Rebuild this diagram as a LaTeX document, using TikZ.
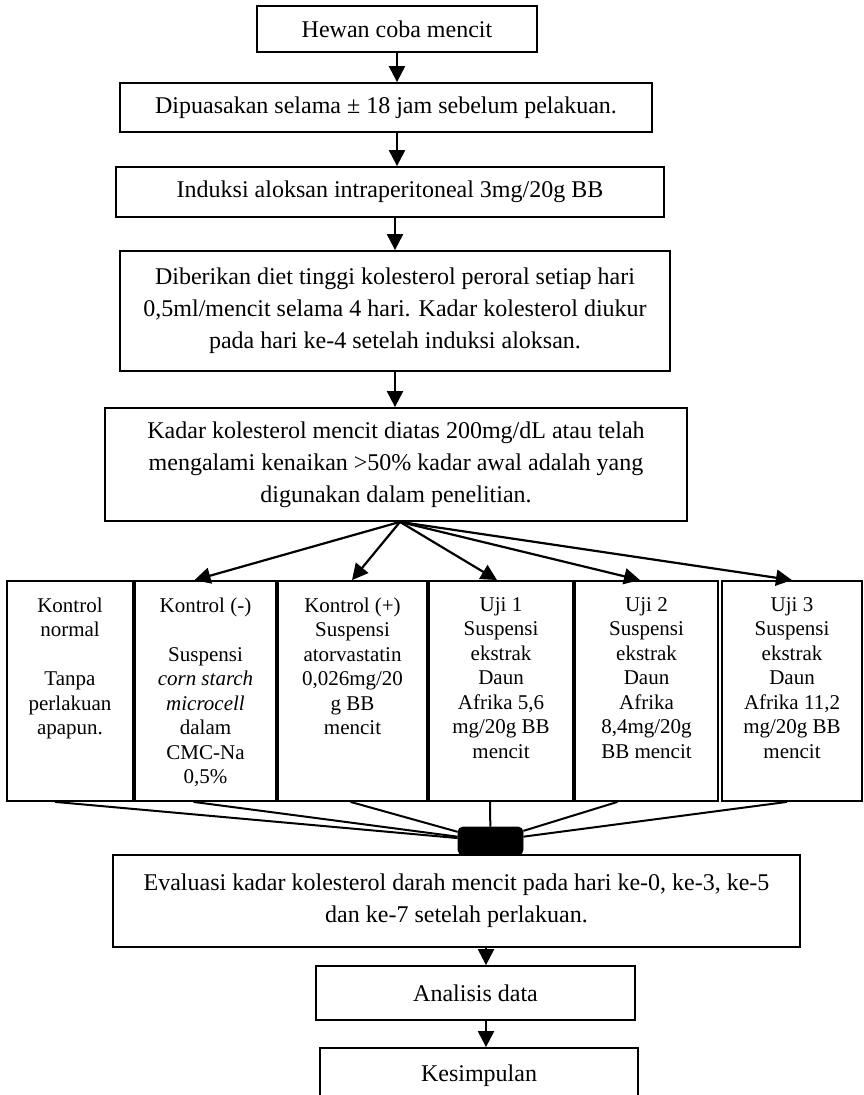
\documentclass[tikz,border=0pt]{standalone}
\usepackage{fontspec}
\setmainfont{Liberation Serif}
\usetikzlibrary{arrows.meta,calc}
\newcommand\bigfnt{\fontsize{12}{16}\selectfont}
\newcommand\smallfnt{\fontsize{10.5}{12.25}\selectfont}
\begin{document}
\begin{tikzpicture}[x=0.5pt,y=-0.5pt,
  box/.style={draw, line width=0.9pt, inner sep=0pt, align=center, font=\bigfnt},
  colbox/.style={draw, line width=0.9pt, inner sep=0pt, minimum height=110pt},
  coltxt/.style={inner sep=0pt, align=center, font=\smallfnt, anchor=north},
  arr/.style={line width=1.1pt, -{Triangle[length=8pt,width=8pt]}},
  lnk/.style={line width=1pt}]
\useasboundingbox (0,0) rectangle (863,1095);

% main chain
\node[box, minimum width=140pt, minimum height=23pt] (h1) at (397,29) {Hewan coba mencit};
\node[box, minimum width=266pt, minimum height=24.5pt] (h2) at (386,107.5) {Dipuasakan selama ± 18 jam sebelum pelakuan.};
\node[box, minimum width=274pt, minimum height=25pt] (h3) at (390,192) {Induksi aloksan intraperitoneal 3mg/20g BB};
\node[box, minimum width=275pt, minimum height=60pt] (h4) at (395,311) {Diberikan diet tinggi kolesterol peroral setiap hari\\0,5ml/mencit selama 4 hari. Kadar kolesterol diukur\\pada hari ke-4 setelah induksi aloksan.};
\node[box, minimum width=291pt, minimum height=56.5pt] (h5) at (396,464.5) {Kadar kolesterol mencit diatas 200mg/dL atau telah\\mengalami kenaikan >50\% kadar awal adalah yang\\digunakan dalam penelitian.};

\draw[arr] (h1.south) -- (h1.south |- h2.north);
\draw[arr] (h2.south -| h1.south) -- (h3.north -| h1.south);
\draw[arr] (h3.south -| h4.south) -- (h4.north);
\draw[arr] (h4.south) -- (h4.south |- h5.north);

% six groups
\node[colbox, minimum width=63pt]   (ga) at (70,691) {};
\node[colbox, minimum width=70.5pt] (gb) at (205.5,691) {};
\node[colbox, minimum width=74.5pt] (gc) at (352.5,691) {};
\node[colbox, minimum width=72pt]   (gd) at (501,691) {};
\node[colbox, minimum width=71.5pt] (ge) at (646.5,691) {};
\node[colbox, minimum width=70pt]   (gf) at (792,691) {};

\node[coltxt] (ta) at ($(ga.north)+(0,17)$) {Kontrol\\normal\\[12.25pt]Tanpa\\perlakuan\\apapun.};
\node[coltxt] (tb) at ($(gb.north)+(0,17)$) {Kontrol (-)\\[12.25pt]Suspensi\\\textit{corn starch}\\\textit{microcell}\\dalam\\CMC-Na\\0,5\%};
\node[coltxt] (tc) at ($(gc.north)+(0,17)$) {Kontrol (+)\\Suspensi\\atorvastatin\\0,026mg/20\\g BB\\mencit};
\node[coltxt] (td) at ($(gd.north)+(0,17)$) {Uji 1\\Suspensi\\ekstrak\\Daun\\Afrika 5,6\\mg/20g BB\\mencit};
\node[coltxt] (te) at ($(ge.north)+(0,17)$) {Uji 2\\Suspensi\\ekstrak\\Daun\\Afrika\\8,4mg/20g\\BB mencit};
\node[coltxt] (tf) at ($(gf.north)+(0,17)$) {Uji 3\\Suspensi\\ekstrak\\Daun\\Afrika 11,2\\mg/20g BB\\mencit};

\coordinate (src) at ($(h5.south)+(4,0)$);
\draw[arr] (src) -- ($(gb.north)+(-11,0)$);
\draw[arr] (src) -- ($(gc.north)+(-0.5,0)$);
\draw[arr] (src) -- ($(gd.north)+(-4,0)$);
\draw[arr] (src) -- ($(ge.north)+(-6.5,0)$);
\draw[arr] (src) -- (gf.north);

% junction
\node[draw, fill=black, rounded corners=2.5pt, minimum width=32.5pt, minimum height=14pt, inner sep=0pt] (J) at (490.5,841) {};
\draw[lnk] ($(ga.south)+(-15,0)$) -- (J);
\draw[lnk] ($(gb.south)+(-12,0)$) -- (J);
\draw[lnk] ($(gc.south)+(-2,0)$) -- (J);
\draw[lnk] ($(gd.south)+(-11,0)$) -- (J);
\draw[lnk] ($(ge.south)+(-29,0)$) -- (J);
\draw[lnk] ($(gf.south)+(-5,0)$) -- (J);

% bottom chain
\node[box, minimum width=343.5pt, minimum height=46pt] (ev) at (456.5,901) {Evaluasi kadar kolesterol darah mencit pada hari ke-0, ke-3, ke-5\\dan ke-7 setelah perlakuan.};
\node[box, minimum width=159.5pt, minimum height=27pt] (an) at (475.5,993) {Analisis data};
\node[box, minimum width=159pt, minimum height=28pt] (ks) at (479,1076) {Kesimpulan};

\coordinate (ax) at ($(an.north)+(10.5,0)$);
\draw[arr] (ev.south -| ax) -- (ax);
\draw[arr] (an.south -| ax) -- (ks.north -| ax);
\end{tikzpicture}
\end{document}
